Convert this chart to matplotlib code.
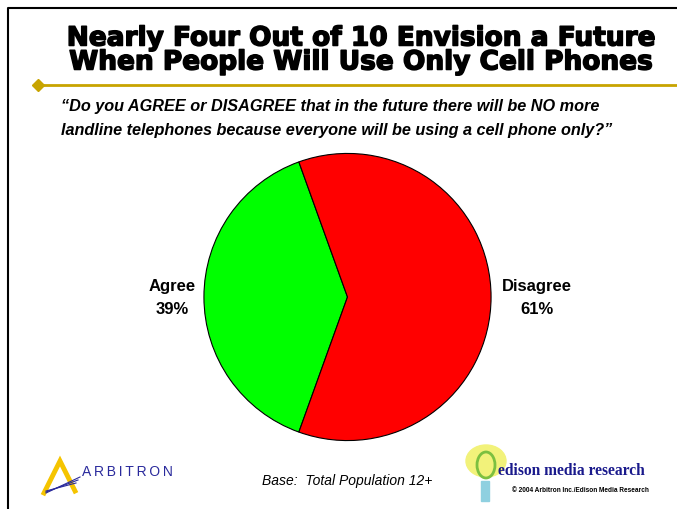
import matplotlib.pyplot as plt
import matplotlib.lines as mlines
import matplotlib.patches as mpatches
import matplotlib.patheffects as pe

labels = ['Agree', 'Disagree']
values = [39, 61]
colors = ['#00FF00', '#FF0000']

W, H = 677, 510
fig = plt.figure(figsize=(W / 100, H / 100), dpi=100)
fig.patch.set_facecolor('white')


def fx(x):
    return x / W


def fy(y):
    return 1 - y / H


def txt(x, y, s, **kw):
    return fig.text(fx(x), fy(y), s, **kw)


# frame
fig.add_artist(mlines.Line2D([fx(8), fx(8), fx(677)], [fy(510), fy(9), fy(9)],
                             color='black', lw=1.5, transform=fig.transFigure))

# title
title = ['Nearly Four Out of 10 Envision a Future',
         'When People Will Use Only Cell Phones']
heavy = [pe.withStroke(linewidth=1.1, foreground='black')]
txt(361, 39.5, title[0], fontsize=19, fontweight='bold', family='DejaVu Sans',
    ha='center', va='center', path_effects=heavy)
txt(361, 63.5, title[1], fontsize=19, fontweight='bold', family='DejaVu Sans',
    ha='center', va='center', path_effects=heavy)

# gold rule with diamond
fig.add_artist(mlines.Line2D([fx(38), fx(677)], [fy(86), fy(86)], color='#C8A400', lw=2,
                             transform=fig.transFigure))
fig.add_artist(mlines.Line2D([fx(38)], [fy(86)], marker='D', ms=6, color='#C8A400',
                             transform=fig.transFigure))

# question
txt(61, 107, '\u201cDo you AGREE or DISAGREE that in the future there will be NO more',
    fontsize=11.7, fontweight='bold', style='italic', family='Liberation Sans', va='center')
txt(61, 131, 'landline telephones because everyone will be using a cell phone only?\u201d',
    fontsize=11.7, fontweight='bold', style='italic', family='Liberation Sans', va='center')

# pie
cx, cy, r = 347.5, 298, 145
ax = fig.add_axes([fx(cx - r), fy(cy + r), 2 * r / W, 2 * r / H])
start = 180 - values[0] / sum(values) * 360 / 2
ax.pie(values, colors=colors, startangle=start, counterclock=True, radius=1,
       wedgeprops=dict(edgecolor='black', linewidth=0.8))
ax.set_xlim(-1.01, 1.01)
ax.set_ylim(-1.01, 1.01)
ax.set_aspect('equal')
ax.axis('off')

for lab, val, x in zip(labels, values, [172, 537]):
    txt(x, 286, lab, fontsize=12, fontweight='bold', family='Liberation Sans',
        ha='center', va='center')
    txt(x, 310, f'{val}%', fontsize=12, fontweight='bold', family='Liberation Sans',
        ha='center', va='center')

# base
txt(347, 481, 'Base:  Total Population 12+', fontsize=10, style='italic',
    family='Liberation Sans', ha='center', va='center')

# Arbitron logo
fig.add_artist(mlines.Line2D([fx(44), fx(60), fx(75)], [fy(494), fy(462), fy(492)],
                             color='#F5C400', lw=3.5, solid_joinstyle='miter',
                             transform=fig.transFigure))
for k in range(3):
    fig.add_artist(mlines.Line2D([fx(46), fx(80 - k * 2)], [fy(494 - k), fy(478 + k * 3)],
                                 color='#2A2A9C', lw=0.8, transform=fig.transFigure))
txt(82, 472, '\u2009'.join('ARBITRON'), fontsize=10, color='#2A2A9C',
    family='Liberation Sans', va='center')

# Edison logo
fig.add_artist(mpatches.Ellipse((fx(486), fy(462)), 40 / W, 32 / H, color='#F2F27A',
                                transform=fig.transFigure))
fig.add_artist(mpatches.Ellipse((fx(486), fy(466)), 18 / W, 26 / H, fill=False,
                                edgecolor='#7CC040', lw=2, transform=fig.transFigure))
fig.add_artist(mpatches.Rectangle((fx(481), fy(502)), 8 / W, 20 / H, color='#8FD0E0',
                                  transform=fig.transFigure))
txt(498, 471, 'edison media research', fontsize=11.2, fontweight='bold',
    family='Liberation Serif', color='#1A1A8C', va='center')
txt(512, 491, '\u00a9 2004 Arbitron Inc./Edison Media Research', fontsize=4.7,
    fontweight='bold', family='Liberation Sans', va='center')

fig.savefig('out.png', dpi=100)
